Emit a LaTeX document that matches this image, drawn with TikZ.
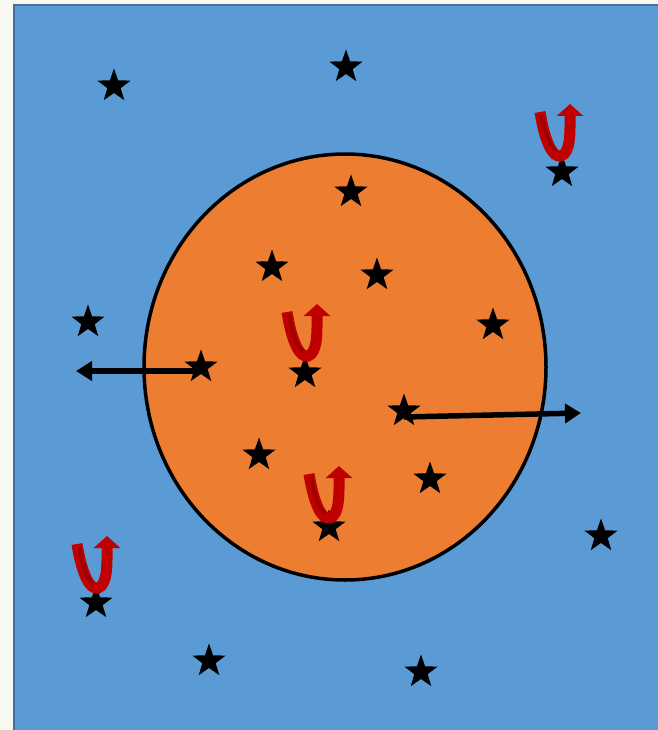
\documentclass[tikz,border=0pt]{standalone}
\usetikzlibrary{shapes.geometric,arrows.meta}
\definecolor{bgpaper}{RGB}{248,248,243}
\definecolor{skyblue}{RGB}{91,155,213}
\definecolor{skyedge}{RGB}{65,113,156}
\definecolor{coreorange}{RGB}{237,125,49}
\definecolor{turnred}{RGB}{192,0,0}
\definecolor{turndark}{RGB}{158,0,0}
\begin{document}
\begin{tikzpicture}[x=1pt,y=-1pt,>={Triangle[length=16pt,width=19pt]},
	starmark/.style={star,star points=5,star point ratio=2.5,fill=black,inner sep=0pt,minimum size=35pt},
	turn/.pic={\draw[turnred,line width=11pt,-{Triangle[length=12pt,width=26pt]}](-18,-21)..controls(-13,10)and(-5,25)..(3,23)..controls(13,20)and(12,-3)..(12,-29);
		\draw[turndark,line width=4pt](-16,-18)..controls(-12,5)and(-7,15)..(-2,19);}]
	\useasboundingbox[fill=bgpaper](0,0)rectangle(657,730);
	\draw[skyedge,line width=2pt,fill=skyblue](14,5)rectangle(680,760);
	\draw[line width=3.5pt,fill=coreorange](345,367)ellipse[x radius=201,y radius=213];
	\foreach \px/\py [count=\i] in {114/86,346/67,562/172,351/192,272/267,377/275,88/322,493/325,201/367,305/373,404/411,259/455,430/479,329/527,601/536,96/603,209/661,421/672}
		\node(s\i)[starmark]at(\px,\py){};
	\coordinate(outL)at(76,371);
	\coordinate(outR)at(581,413);
	\draw[->,line width=5.5pt]([yshift=-4pt]s9.center)--(outL);
	\draw[->,line width=5.5pt]([yshift=-6pt]s11.center)--(outR);
	\pic at(305,333){turn};
	\pic at(558,133){turn};
	\pic at(327,495){turn};
	\pic at(95,565){turn};
\end{tikzpicture}
\end{document}
